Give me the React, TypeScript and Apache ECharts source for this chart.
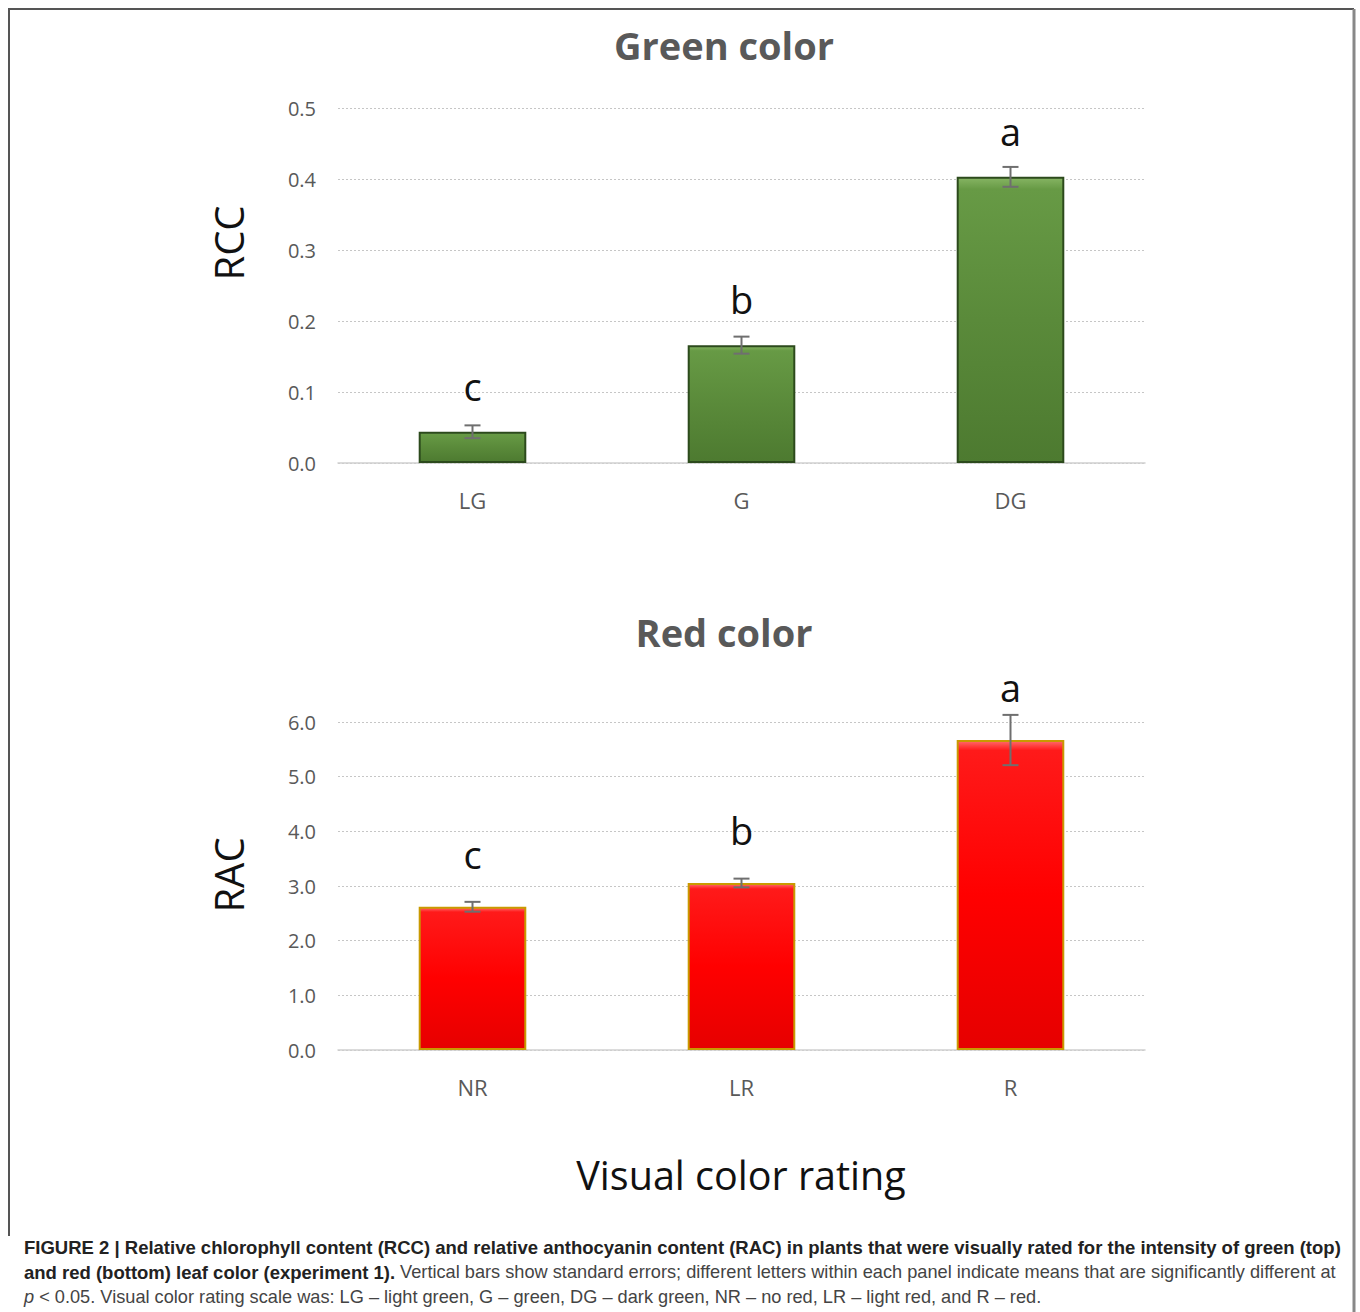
import React, { useEffect, useRef } from "react";
import * as echarts from "echarts";

const greenCategories = ["LG", "G", "DG"];
const greenValues = [0.044, 0.166, 0.403];
const greenErrors = [0.009, 0.012, 0.014];
const greenLetters = ["c", "b", "a"];
const greenTicks = [0, 0.5, 0.1];

const redCategories = ["NR", "LR", "R"];
const redValues = [2.62, 3.055, 5.67];
const redErrors = [0.09, 0.08, 0.46];
const redLetters = ["c", "b", "a"];
const redTicks = [0, 6, 1];

const FONT = "'Open Sans', 'Noto Sans', sans-serif";
const CAP_FONT = "'Liberation Sans Narrow', 'Liberation Sans', Arial, sans-serif";
const GRAY = "#595959";

function errorSeries(xi: number, values: number[], errors: number[]) {
  return {
    type: "custom",
    xAxisIndex: xi,
    yAxisIndex: xi,
    clip: false,
    z: 5,
    encode: { x: 0, y: 1 },
    data: values.map((v, i) => [i, v, errors[i]]),
    renderItem: (params: any, api: any) => {
      const idx = api.value(0);
      const v = api.value(1);
      const e = api.value(2);
      const hi = api.coord([idx, v + e]);
      const lo = api.coord([idx, v - e]);
      const w = 8;
      const st = { stroke: "#6f6f6f", lineWidth: 2 };
      return {
        type: "group",
        children: [
          { type: "line", shape: { x1: hi[0], y1: hi[1], x2: lo[0], y2: lo[1] }, style: st },
          { type: "line", shape: { x1: hi[0] - w, y1: hi[1], x2: hi[0] + w, y2: hi[1] }, style: st },
          { type: "line", shape: { x1: lo[0] - w, y1: lo[1], x2: lo[0] + w, y2: lo[1] }, style: st },
        ],
      };
    },
  };
}

function barSeries(xi: number, values: number[], letters: string[], red: boolean) {
  const color = red
    ? new echarts.graphic.LinearGradient(0, 0, 0, 1, [
        { offset: 0, color: "#ff6a6a" },
        { offset: 0.03, color: "#ff1a1a" },
        { offset: 0.5, color: "#ff0000" },
        { offset: 1, color: "#e60000" },
      ])
    : new echarts.graphic.LinearGradient(0, 0, 0, 1, [
        { offset: 0, color: "#86b463" },
        { offset: 0.04, color: "#679a45" },
        { offset: 0.5, color: "#5a8a3a" },
        { offset: 1, color: "#4d7a30" },
      ]);
  return {
    type: "bar",
    xAxisIndex: xi,
    yAxisIndex: xi,
    barWidth: "40%",
    data: values,
    itemStyle: {
      color,
      borderColor: red ? "#c99a00" : "#2c4a1c",
      borderWidth: 2,
    },
    label: {
      show: true,
      position: "top",
      distance: red ? 34 : 27,
      formatter: (p: any) => letters[p.dataIndex],
      fontSize: 38,
      fontFamily: FONT,
      color: "#111",
    },
  };
}

function yAxis(gi: number, ticks: number[], digits: number) {
  return {
    type: "value",
    gridIndex: gi,
    min: ticks[0],
    max: ticks[1],
    interval: ticks[2],
    axisLine: { show: false },
    axisTick: { show: false },
    axisLabel: {
      formatter: (v: number) => v.toFixed(digits),
      fontSize: 20,
      fontFamily: FONT,
      color: GRAY,
      margin: 22,
    },
    splitLine: { lineStyle: { color: "#c6c6c6", type: [2, 2], width: 1 } },
  };
}

function xAxis(gi: number, cats: string[]) {
  return {
    type: "category",
    gridIndex: gi,
    data: cats,
    axisLine: { lineStyle: { color: "#d0d0d0", width: 1.5 } },
    axisTick: { show: false },
    axisLabel: { fontSize: 22, fontFamily: FONT, color: GRAY, margin: 26 },
  };
}

export default function App() {
  const ref = useRef<HTMLDivElement>(null);
  useEffect(() => {
    if (!ref.current) return;
    const chart = echarts.init(ref.current, undefined, { renderer: "svg" });
    const capBold = { fontFamily: CAP_FONT, fontSize: 18.5, fontWeight: "bold", fill: "#222" };
    const capReg = { fontFamily: CAP_FONT, fontSize: 18.2, fontWeight: "normal", fill: "#444" };
    const capIt = { fontFamily: CAP_FONT, fontSize: 18.2, fontStyle: "italic", fill: "#444" };
    chart.setOption({
      animation: false,
      backgroundColor: "#ffffff",
      grid: [
        { left: 338, right: 215, top: 108, height: 355 },
        { left: 338, right: 215, top: 722, height: 328 },
      ],
      xAxis: [xAxis(0, greenCategories), xAxis(1, redCategories)],
      yAxis: [yAxis(0, greenTicks, 1), yAxis(1, redTicks, 1)],
      series: [
        barSeries(0, greenValues, greenLetters, false),
        errorSeries(0, greenValues, greenErrors),
        barSeries(1, redValues, redLetters, true),
        errorSeries(1, redValues, redErrors),
      ],
      graphic: [
        { type: "line", shape: { x1: 8, y1: 9, x2: 1354, y2: 9 }, style: { stroke: "#555", lineWidth: 2 } },
        { type: "line", shape: { x1: 9, y1: 9, x2: 9, y2: 1236 }, style: { stroke: "#555", lineWidth: 2 } },
        { type: "line", shape: { x1: 1354, y1: 9, x2: 1354, y2: 1312 }, style: { stroke: "#888", lineWidth: 3 } },
        {
          type: "text", x: 724, y: 45,
          style: { text: "Green color", fontFamily: FONT, fontSize: 38, fontWeight: "bold", fill: GRAY, align: "center", verticalAlign: "middle" },
        },
        {
          type: "text", x: 724, y: 632,
          style: { text: "Red color", fontFamily: FONT, fontSize: 38, fontWeight: "bold", fill: GRAY, align: "center", verticalAlign: "middle" },
        },
        {
          type: "text", x: 228, y: 243, rotation: Math.PI / 2,
          style: { text: "RCC", fontFamily: FONT, fontSize: 40, fill: "#111", align: "center", verticalAlign: "middle" },
        },
        {
          type: "text", x: 228, y: 875, rotation: Math.PI / 2,
          style: { text: "RAC", fontFamily: FONT, fontSize: 40, fill: "#111", align: "center", verticalAlign: "middle" },
        },
        {
          type: "text", x: 741, y: 1175,
          style: { text: "Visual color rating", fontFamily: FONT, fontSize: 39.5, fill: "#111", align: "center", verticalAlign: "middle" },
        },
        {
          type: "text", x: 24, y: 1247,
          style: {
            text: "{b|FIGURE 2 | Relative chlorophyll content (RCC) and relative anthocyanin content (RAC) in plants that were visually rated for the intensity of green (top)}",
            verticalAlign: "middle",
            rich: { b: capBold },
          },
        },
        {
          type: "text", x: 24, y: 1272,
          style: {
            text: "{b|and red (bottom) leaf color (experiment 1).}{r| Vertical bars show standard errors; different letters within each panel indicate means that are significantly different at}",
            verticalAlign: "middle",
            rich: { b: capBold, r: capReg },
          },
        },
        {
          type: "text", x: 24, y: 1297,
          style: {
            text: "{i|p}{r| < 0.05. Visual color rating scale was: LG – light green, G – green, DG – dark green, NR – no red, LR – light red, and R – red.}",
            verticalAlign: "middle",
            rich: { i: capIt, r: capReg },
          },
        },
      ],
    });
    return () => chart.dispose();
  }, []);
  return (
    <div
      ref={ref}
      style={{ position: "absolute", left: 0, top: 0, width: 1360, height: 1312 }}
    />
  );
}
